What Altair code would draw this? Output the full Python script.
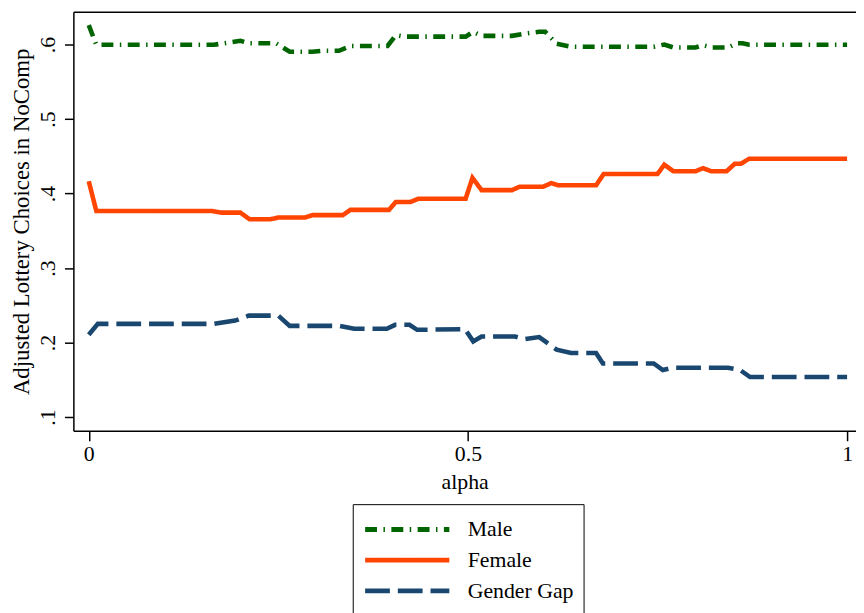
import altair as alt
import pandas as pd

# ---- data ----
MALE_X = [0, 0.01, 0.165, 0.2, 0.211, 0.247, 0.265, 0.295, 0.31, 0.33, 0.345, 0.394,
          0.405, 0.415, 0.497, 0.507, 0.518, 0.558, 0.575, 0.594, 0.602, 0.617, 0.636,
          0.745, 0.759, 0.771, 0.8, 0.81, 0.821, 0.843, 0.855, 0.862, 0.871, 1.0]
MALE_Y = [0.626, 0.5996, 0.5996, 0.605, 0.6017, 0.6017, 0.5903, 0.5903, 0.5916, 0.5916,
          0.598, 0.598, 0.6125, 0.6106, 0.6106, 0.617, 0.6116, 0.6116, 0.6146, 0.617,
          0.617, 0.601, 0.597, 0.597, 0.600, 0.596, 0.596, 0.599, 0.596, 0.596, 0.6017,
          0.6017, 0.5996, 0.5996]

FEMALE_X = [0, 0.01, 0.162, 0.175, 0.2, 0.212, 0.24, 0.25, 0.285, 0.295, 0.335, 0.345,
            0.396, 0.405, 0.424, 0.435, 0.497, 0.506, 0.518, 0.558, 0.568, 0.599, 0.61,
            0.619, 0.669, 0.679, 0.75, 0.759, 0.771, 0.8, 0.81, 0.821, 0.841, 0.852,
            0.86, 0.871, 1.0]
FEMALE_Y = [0.4165, 0.3766, 0.3766, 0.3743, 0.3743, 0.3655, 0.3655, 0.3677, 0.3677,
            0.371, 0.371, 0.378, 0.378, 0.3886, 0.3886, 0.393, 0.393, 0.421, 0.4045,
            0.4045, 0.409, 0.409, 0.414, 0.411, 0.411, 0.4262, 0.4262, 0.4387, 0.4298,
            0.4298, 0.434, 0.4298, 0.4298, 0.44, 0.44, 0.4467, 0.4467]

GAP_X = [0, 0.012, 0.165, 0.193, 0.211, 0.25, 0.265, 0.33, 0.35, 0.393, 0.404, 0.423,
         0.433, 0.496, 0.507, 0.518, 0.562, 0.575, 0.594, 0.617, 0.636, 0.669, 0.678,
         0.745, 0.757, 0.769, 0.843, 0.859, 0.872, 1.0]
GAP_Y = [0.2104, 0.225, 0.225, 0.2294, 0.2361, 0.2361, 0.2223, 0.2223, 0.2184, 0.2184,
         0.2237, 0.2237, 0.217, 0.218, 0.2015, 0.208, 0.208, 0.2046, 0.2073, 0.1904,
         0.186, 0.186, 0.1718, 0.1718, 0.163, 0.166, 0.166, 0.163, 0.1536, 0.1536]

SERIES = ["Male", "Female", "Gender Gap"]
COLORS = ["#006400", "#ff4500", "#1a476f"]
DASHES = [[12, 6.5, 1.5, 6.5], [1, 0], [25, 8]]
X_TICKS = [0, 0.5, 1]
Y_TICKS = [0.1, 0.2, 0.3, 0.4, 0.5, 0.6]

rows = []
for name, xs, ys in [("Male", MALE_X, MALE_Y), ("Female", FEMALE_X, FEMALE_Y),
                     ("Gender Gap", GAP_X, GAP_Y)]:
    for i, (a, v) in enumerate(zip(xs, ys)):
        rows.append({"series": name, "alpha": a, "value": v, "order": i})
df = pd.DataFrame(rows)

FONT = "Liberation Serif"
xscale = alt.Scale(domain=[-0.02025, 1.01175], nice=False, zero=False)
yscale = alt.Scale(domain=[0.08138, 0.64388], nice=False, zero=False)

legend = alt.Legend(
    title=None, orient="none", legendX=282, legendY=497, direction="vertical",
    strokeColor="black", padding=10, symbolType="stroke", symbolSize=7225,
    symbolStrokeWidth=5, clipHeight=31, rowPadding=0, labelOffset=16,
    labelFont=FONT, labelFontSize=22, labelColor="black",
)

lines = alt.Chart(df).mark_line(strokeWidth=4.6, strokeCap="butt").encode(
    x=alt.X("alpha:Q", scale=xscale,
            axis=alt.Axis(values=X_TICKS, format="~g", title="alpha", tickSize=10,
                          labelPadding=3, titlePadding=7, labelFontSize=22,
                          titleFontSize=22)),
    y=alt.Y("value:Q", scale=yscale,
            axis=alt.Axis(values=Y_TICKS,
                          labelExpr="substring(format(datum.value, '.1f'), 1)",
                          title="Adjusted Lottery Choices in NoComp", tickSize=9,
                          labelAngle=270, labelAlign="center", labelBaseline="bottom",
                          labelPadding=5, titlePadding=3, labelFontSize=22,
                          titleFontSize=23)),
    color=alt.Color("series:N", scale=alt.Scale(domain=SERIES, range=COLORS), legend=legend),
    strokeDash=alt.StrokeDash("series:N", scale=alt.Scale(domain=SERIES, range=DASHES),
                              legend=legend),
    order="order:Q",
)

top = alt.Chart(df).mark_point(opacity=0).encode(
    x=alt.X("alpha:Q", scale=xscale,
            axis=alt.Axis(orient="top", labels=False, ticks=False, title=None)),
)

chart = alt.layer(lines, top).resolve_scale(x="independent").properties(
    width=790, height=423,
    padding={"left": 66, "top": 1, "right": 0, "bottom": 181},
    autosize=alt.AutoSizeParams(type="none"),
).configure_view(stroke=None).configure_axis(
    labelFont=FONT, titleFont=FONT, labelColor="black", titleColor="black",
    tickColor="black", domainColor="black", domainWidth=1.5, tickWidth=1.5,
    grid=False, titleFontWeight="normal",
)

chart.save("out.html", embed_options={"renderer": "svg", "actions": False})
